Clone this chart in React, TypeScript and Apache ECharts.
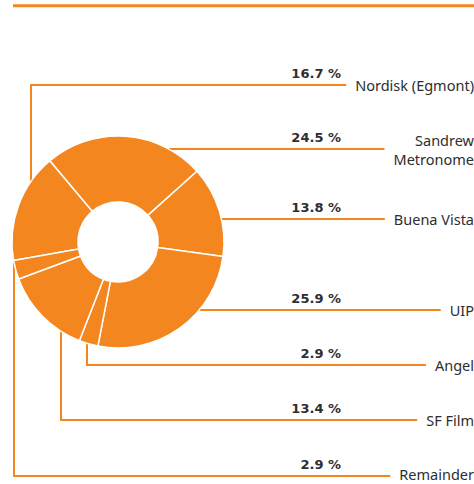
import React, { useEffect, useRef } from "react";
import * as echarts from "echarts";

const names = ["Nordisk (Egmont)", "Sandrew\nMetronome", "Buena Vista", "UIP", "Angel", "SF Film", "Remainder"];
const shares = [16.7, 24.5, 13.8, 25.9, 2.9, 13.4, 2.9];

// layout (pixels): row of each label's leader line
const rowY = [85, 149, 219, 310, 365, 420, 476];
// vertical leader column for left-hand slices (null = horizontal leader from the rim)
const leaderCol: (number | null)[] = [31, null, null, null, 87, 61, 14];
const leaderSide = [-1, 0, 0, 0, 1, 1, 1];

const ORANGE = "#F4861F";
const TEXT = "#2e2e2e";
const CX = 118;
const CY = 242;
const R_IN = 40;
const R_OUT = 106;
const NAME_RIGHT = 474;
const PCT_RIGHT = 341;
const GAP = 9;
const MAX_TEXT_Y = 473.5;

export default function App() {
  const ref = useRef<HTMLDivElement>(null);
  useEffect(() => {
    if (!ref.current) return;
    const chart = echarts.init(ref.current, null, { renderer: "svg" });
    const data = names.map((n, i) => ({ name: n, value: shares[i] }));
    chart.setOption({
      animation: false,
      backgroundColor: "#fff",
      graphic: [
        {
          type: "line",
          shape: { x1: 13, y1: 5.8, x2: 474, y2: 5.8 },
          style: { stroke: ORANGE, lineWidth: 3 },
        },
      ],
      series: [
        {
          type: "pie",
          center: [CX, CY],
          radius: [R_IN, R_OUT],
          startAngle: 190,
          clockwise: true,
          avoidLabelOverlap: false,
          data,
          itemStyle: { color: ORANGE, borderColor: "#fff", borderWidth: 1.5 },
          label: {
            show: true,
            position: "outside",
            formatter: "{b}",
            color: TEXT,
            fontFamily: "Noto Sans",
            fontSize: 14.5,
            lineHeight: 19,
          },
          labelLine: { show: true, lineStyle: { color: ORANGE, width: 2 } },
          labelLayout: (p: any) => {
            const i = p.dataIndex;
            const y = rowY[i];
            const endX = NAME_RIGHT - p.labelRect.width - GAP;
            let pts: number[][];
            const col = leaderCol[i];
            if (col != null) {
              const dy = Math.sqrt(R_OUT * R_OUT - (col - CX) * (col - CX));
              const ay = leaderSide[i] < 0 ? CY - dy : CY + dy;
              pts = [[col, ay], [col, y], [endX, y]];
            } else {
              const dx = Math.sqrt(R_OUT * R_OUT - (y - CY) * (y - CY));
              pts = [[CX + dx, y], [CX + dx + 1, y], [endX, y]];
            }
            return {
              x: NAME_RIGHT,
              y: Math.min(y, MAX_TEXT_Y),
              align: "right",
              verticalAlign: "middle",
              labelLinePoints: pts,
            };
          },
        },
        {
          type: "pie",
          center: [CX, CY],
          radius: [R_IN, R_OUT],
          startAngle: 190,
          clockwise: true,
          silent: true,
          avoidLabelOverlap: false,
          data,
          itemStyle: { color: "rgba(0,0,0,0)", borderWidth: 0 },
          label: {
            show: true,
            position: "outside",
            formatter: "{c} %",
            color: TEXT,
            fontFamily: "DejaVu Sans",
            fontWeight: "bold",
            fontSize: 13,
          },
          labelLine: { show: false },
          labelLayout: (p: any) => {
            const i = p.dataIndex;
            return { x: PCT_RIGHT, y: rowY[i] - 12, align: "right", verticalAlign: "middle" };
          },
        },
      ],
    });
    return () => chart.dispose();
  }, []);
  return (
    <div
      ref={ref}
      style={{ position: "fixed", left: 0, top: 0, width: 474, height: 484, background: "#fff" }}
    />
  );
}
